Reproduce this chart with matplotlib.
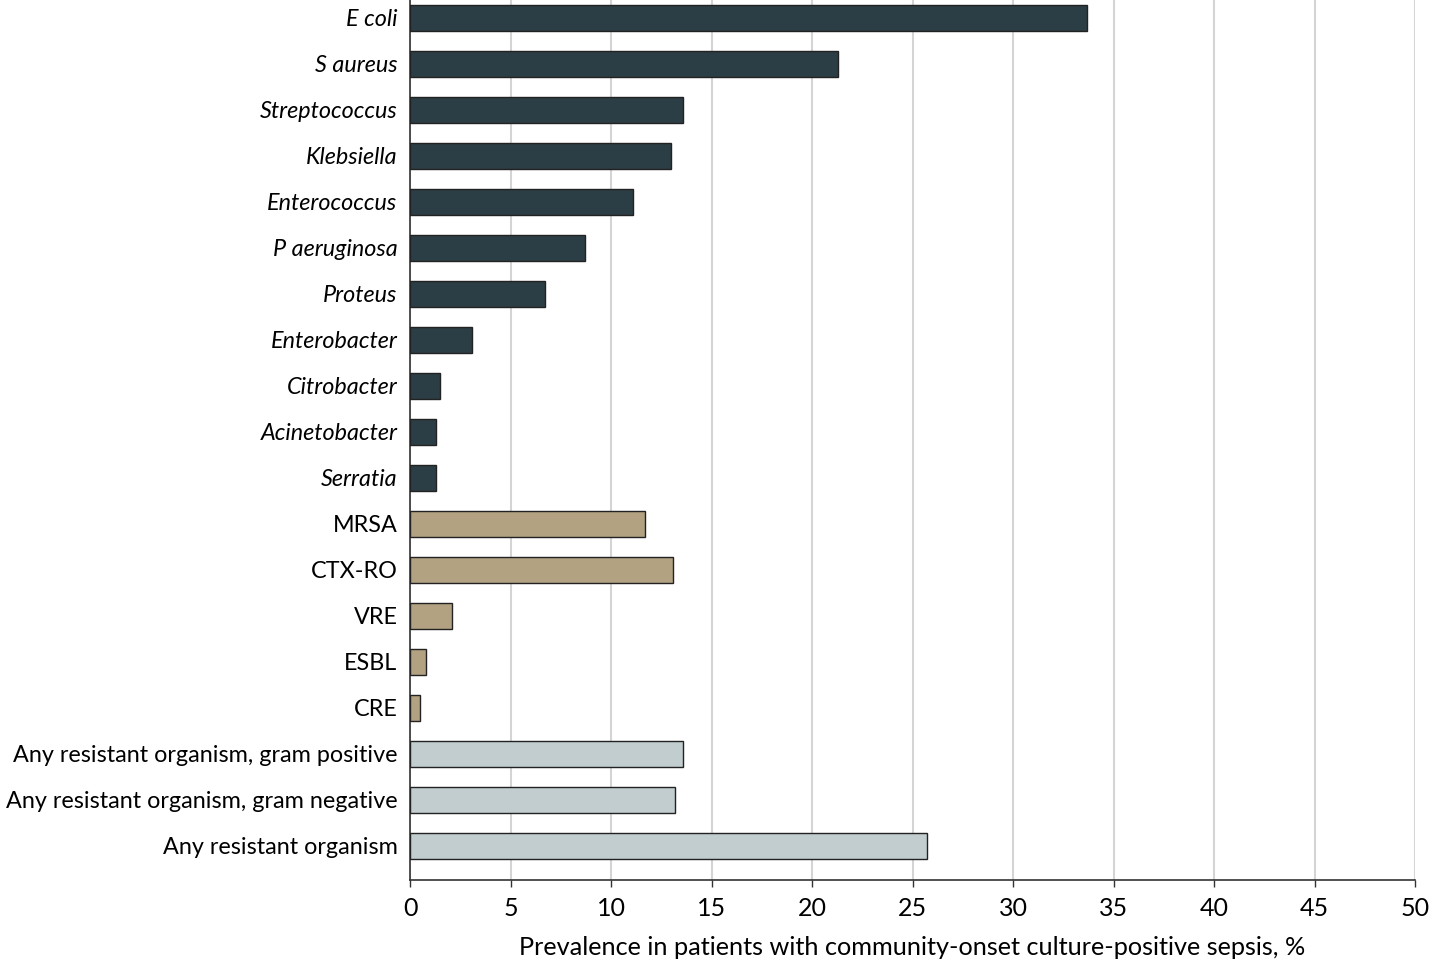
import matplotlib
matplotlib.use("Agg")
import matplotlib.pyplot as plt
import numpy as np

# Data
labels = ["E coli", "S aureus", "Streptococcus", "Klebsiella", "Enterococcus",
          "P aeruginosa", "Proteus", "Enterobacter", "Citrobacter", "Acinetobacter",
          "Serratia", "MRSA", "CTX-RO", "VRE", "ESBL", "CRE",
          "Any resistant organism, gram positive",
          "Any resistant organism, gram negative",
          "Any resistant organism"]
values = [33.7, 21.3, 13.6, 13.0, 11.1, 8.7, 6.7, 3.1, 1.5, 1.3, 1.3,
          11.7, 13.1, 2.1, 0.8, 0.5, 13.6, 13.2, 25.7]
groups = ["organism"] * 11 + ["resistant"] * 5 + ["any"] * 3

group_colors = {"organism": "#2c3e45", "resistant": "#b2a282", "any": "#c1cdce"}

plt.rcParams['font.family'] = ['Lato', 'DejaVu Sans']

fig = plt.figure(figsize=(14.35, 9.67), dpi=100)
ax = fig.add_axes([410 / 1435, 1 - 880 / 967, 1005 / 1435, 880 / 967])

y = np.arange(len(labels))
ax.barh(y, values, height=0.57, color=[group_colors[g] for g in groups],
        edgecolor="#222222", linewidth=1.0, zorder=3)

ax.set_xlim(0, 50)
ax.set_ylim(18.74, -0.39)
ax.set_xticks(np.arange(0, 51, 5))
ax.set_yticks(y)
ax.set_yticklabels(labels)
for lab, g in zip(ax.get_yticklabels(), groups):
    if g == "organism":
        lab.set_style("italic")

ax.tick_params(axis="y", length=0, pad=9, labelsize=16.8)
ax.tick_params(axis="x", length=5, width=1, labelsize=18, pad=7, color="#333333")
ax.grid(axis="x", color="#d4d4d4", linewidth=1.5, zorder=0)
ax.set_axisbelow(True)

for side in ["top", "right"]:
    ax.spines[side].set_visible(False)
for side in ["left", "bottom"]:
    ax.spines[side].set_color("#333333")
    ax.spines[side].set_linewidth(1.2)

ax.set_xlabel("Prevalence in patients with community-onset culture-positive sepsis, %",
              fontsize=18.2, labelpad=12)

fig.savefig("out.png", dpi=100)
